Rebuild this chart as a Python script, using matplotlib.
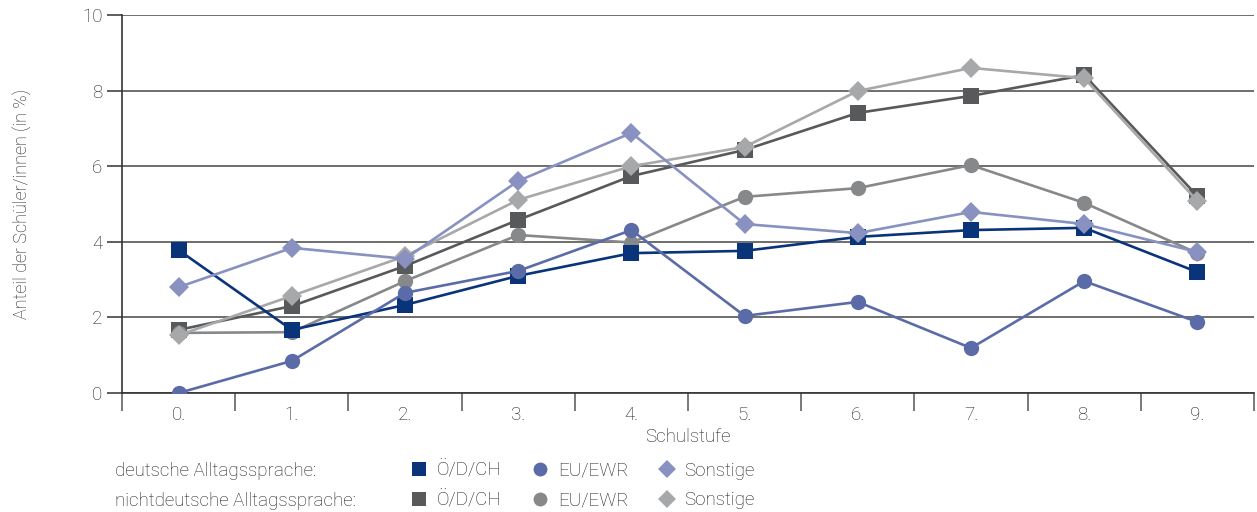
import matplotlib
matplotlib.use("Agg")
import matplotlib.pyplot as plt
from matplotlib.lines import Line2D

plt.rcParams['font.family'] = ['Roboto', 'DejaVu Sans']
plt.rcParams['font.weight'] = 'light'
plt.rcParams['axes.labelweight'] = 'light'

# Schulstufen 0. bis 9.
grades = ["0.", "1.", "2.", "3.", "4.", "5.", "6.", "7.", "8.", "9."]

# deutsche Alltagssprache
de_odch = [3.78, 1.67, 2.33, 3.10, 3.70, 3.76, 4.13, 4.31, 4.37, 3.20]
de_euewr = [0.00, 0.85, 2.65, 3.23, 4.31, 2.04, 2.41, 1.19, 2.96, 1.88]
de_sonst = [2.80, 3.84, 3.55, 5.61, 6.88, 4.47, 4.23, 4.79, 4.47, 3.73]

# nichtdeutsche Alltagssprache
nd_odch = [1.67, 2.30, 3.36, 4.58, 5.74, 6.43, 7.41, 7.86, 8.41, 5.21]
nd_euewr = [1.59, 1.61, 2.96, 4.18, 3.98, 5.19, 5.42, 6.03, 5.03, 3.70]
nd_sonst = [1.53, 2.57, 3.62, 5.11, 6.00, 6.51, 7.99, 8.60, 8.33, 5.08]

series_labels = ["Ö/D/CH", "EU/EWR", "Sonstige"]
row_labels = ["deutsche Alltagssprache:", "nichtdeutsche Alltagssprache:"]

TEXT = "#1e1e1e"
FS = 13.5

fig = plt.figure(figsize=(12.57, 5.12), dpi=100)
ax = fig.add_axes([0.0971, 0.2324, 0.9005, 0.7383])

x = list(range(len(grades)))

styles = [
    (nd_odch, "#58595b", "s", 12),
    (nd_euewr, "#87888a", "o", 11),
    (nd_sonst, "#a7a8aa", "D", 10),
    (de_odch, "#0a347a", "s", 12),
    (de_euewr, "#5b6ba8", "o", 11),
    (de_sonst, "#8891c0", "D", 10),
]
for values, color, marker, ms in styles:
    ax.plot(x, values, color=color, lw=1.9, marker=marker, ms=ms,
            markeredgewidth=0, zorder=3)

# axes and grid
ax.set_xlim(-0.5, 9.5)
ax.set_ylim(0, 10)
ax.set_yticks([0, 2, 4, 6, 8, 10])
ax.yaxis.grid(True, color="#555555", lw=1.2)
ax.set_axisbelow(True)
for side in ["top", "right"]:
    ax.spines[side].set_visible(False)
for side in ["left", "bottom"]:
    ax.spines[side].set_color("#333333")
    ax.spines[side].set_linewidth(1.2)

ax.set_xticks(x)
ax.set_xticklabels(grades)
ax.set_xticks([i - 0.5 for i in range(len(grades) + 1)], minor=True)
ax.tick_params(axis="x", which="major", length=0, pad=9, labelsize=FS, colors=TEXT)
ax.tick_params(axis="x", which="minor", length=13, width=1.1, color="#555555")
ax.tick_params(axis="y", length=11, width=1.1, color="#333333", labelsize=FS,
               labelcolor=TEXT, pad=3)

ax.set_xlabel("Schulstufe", fontsize=FS, color=TEXT, labelpad=3)
ax.set_ylabel("Anteil der Schüler/innen (in %)", fontsize=13, color=TEXT, labelpad=37)

# legend: two rows, label text plus three entries each
for i, text in enumerate(row_labels):
    fig.text(0.0915, 0.080 - i * 0.0586, text, fontsize=FS, color=TEXT, va="center")

def handle(color, marker, ms):
    return Line2D([], [], color=color, marker=marker, ms=ms, lw=0, markeredgewidth=0)

leg_handles = [
    handle("#0a347a", "s", 10), handle("#58595b", "s", 10),
    handle("#5b6ba8", "o", 10), handle("#87888a", "o", 10),
    handle("#8891c0", "D", 9), handle("#a7a8aa", "D", 9),
]
leg_labels = [series_labels[0], series_labels[0],
              series_labels[1], series_labels[1],
              series_labels[2], series_labels[2]]
fig.legend(leg_handles, leg_labels, ncol=3, frameon=False,
           loc="center left", bbox_to_anchor=(0.3125, 0.052),
           fontsize=FS, handlelength=1.0, handletextpad=0.45,
           columnspacing=1.55, labelspacing=0.62, labelcolor=TEXT)

fig.savefig("out.png", dpi=100)
